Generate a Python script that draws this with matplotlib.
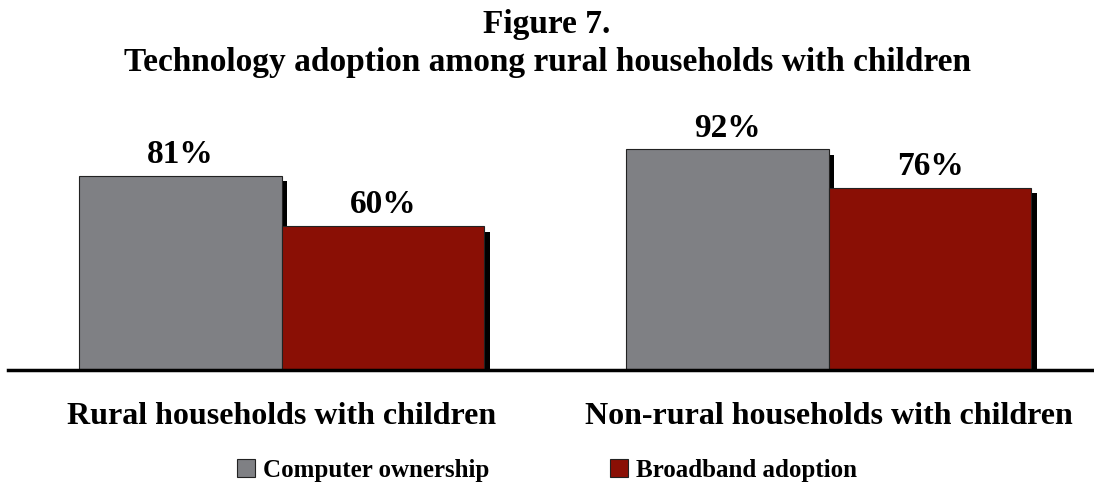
import numpy as np
import matplotlib
matplotlib.use('Agg')
import matplotlib.pyplot as plt
import matplotlib.patheffects as pe
from matplotlib.patches import Patch

groups = ['Rural households with children', 'Non-rural households with children']
series = ['Computer ownership', 'Broadband adoption']
computer = [81, 92]
broadband = [60, 76]

colors = ['#7f8084', '#8a0f05']

plt.rcParams['font.family'] = ['Liberation Serif', 'DejaVu Serif']
plt.rcParams['font.weight'] = 'bold'

fig = plt.figure(figsize=(10.94, 4.91), dpi=100)
ax = fig.add_axes([8 / 1094, 1 - 370 / 491, 1 - 8 / 1094, 240 / 491])

x = np.arange(len(groups))
width = 0.37
shadow = [pe.SimplePatchShadow(offset=(4, -4), shadow_rgbFace='black', alpha=1.0), pe.Normal()]

for i, (vals, name) in enumerate(zip([computer, broadband], series)):
    pos = x + (i - 0.5) * width
    bars = ax.bar(pos, vals, width=width, color=colors[i], edgecolor='#222222',
                  linewidth=0.8, zorder=2)
    for b, v in zip(bars, vals):
        b.set_path_effects(shadow)
        ax.annotate('%d%%' % v, xy=(b.get_x() + b.get_width() / 2, v),
                    xytext=(0, 4), textcoords='offset points',
                    ha='center', va='bottom', fontsize=24, fontweight='bold')

ax.set_ylim(0, 100)
ax.set_xlim(-0.5, 1 + 265 / 547)
ax.set_xticks(x)
ax.set_xticklabels(groups, fontsize=23, fontweight='bold')
ax.tick_params(axis='x', length=0, pad=23)
ax.set_yticks([])
for s in ['top', 'left', 'right']:
    ax.spines[s].set_visible(False)
ax.spines['bottom'].set_linewidth(2.5)
ax.spines['bottom'].set_zorder(5)

fig.text(0.5, 1 - 25 / 491, 'Figure 7.', ha='center', va='center',
         fontsize=24, fontweight='bold')
fig.text(0.5, 1 - 63 / 491, 'Technology adoption among rural households with children',
         ha='center', va='center', fontsize=24, fontweight='bold')

handles = [Patch(facecolor=c, edgecolor='#222222', linewidth=0.8, label=s)
           for c, s in zip(colors, series)]
fig.legend(handles=handles, loc='center', bbox_to_anchor=(0.5, 1 - 470 / 491), ncol=2,
           frameon=False, handlelength=0.72, handleheight=0.72, handletextpad=0.32,
           columnspacing=4.8, prop={'weight': 'bold', 'size': 18})

fig.savefig('out.png', dpi=100)
